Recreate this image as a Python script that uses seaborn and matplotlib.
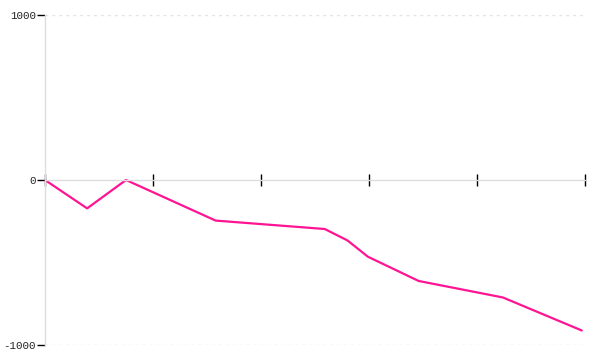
import matplotlib
matplotlib.use("Agg")
import matplotlib.pyplot as plt
import seaborn as sns
import pandas as pd

x_vals = [0.0, 0.39, 0.75, 1.58, 2.59, 2.80, 2.99, 3.46, 4.24, 4.97]
y_vals = [0, -172, 0, -246, -297, -366, -465, -612, -712, -912]
x_ticks = [0, 1, 2, 3, 4, 5]
y_ticks = [-1000, 0, 1000]

sns.set_style("white")
plt.rcParams['font.family'] = ['Liberation Mono', 'DejaVu Sans Mono']

fig = plt.figure(figsize=(6, 3.6), dpi=100)
ax = fig.add_axes([0.075, 1 - 345/360, 0.9, 330/360])

df = pd.DataFrame({"x": x_vals, "y": y_vals})
sns.lineplot(data=df, x="x", y="y", ax=ax, color="#ff1493", linewidth=1.6)

ax.set_xlim(0, 5)
ax.set_ylim(-1000, 1000)
ax.set_xticks(x_ticks)
ax.set_xticklabels([])
ax.set_yticks(y_ticks)
ax.set_yticklabels([str(v) for v in y_ticks], fontsize=7.8, color="#222222")
ax.set_xlabel("")
ax.set_ylabel("")

for yv in [-1000, 1000]:
    ax.axhline(yv, color="#e2e2e2", linestyle=(0, (2, 3)), linewidth=1, zorder=0)

ax.spines['top'].set_visible(False)
ax.spines['right'].set_visible(False)
ax.spines['bottom'].set_position(('data', 0))
ax.spines['bottom'].set_color("#dddddd")
ax.spines['left'].set_color("#dddddd")
ax.spines['bottom'].set_linewidth(1)
ax.spines['left'].set_linewidth(1)
ax.tick_params(axis='x', direction='inout', length=8, width=1, color="black", bottom=True)
ax.tick_params(axis='y', direction='out', length=6, width=1, color="black", left=True, pad=0.5)

fig.savefig("out.png", dpi=100)
